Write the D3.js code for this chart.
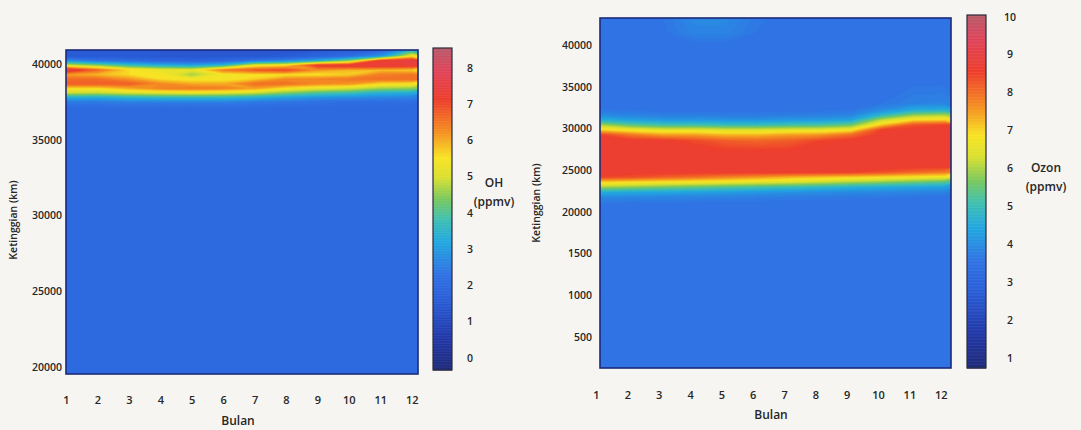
<!DOCTYPE html>
<html><head><meta charset="utf-8">
<script src="https://cdn.jsdelivr.net/npm/d3@7"></script>
<style>
body{margin:0;background:#f6f5f1;}
svg{display:block;}
text{font-family:"Open Sans",sans-serif;font-weight:600;fill:#262626;}
</style>
</head><body>
<svg id="c" width="1081" height="430"></svg>
<script>
// ---------------- DATA ----------------
const months = [1,2,3,4,5,6,7,8,9,10,11,12];
const monthLabels = ["1","2","3","4","5","6","7","8","9","10","11","12"];

// OH (ppmv): rows = altitude levels, columns = months 1..12
const ohAltitudes = [19550,30000,36600,37100,37500,37800,38100,38400,38700,39000,39300,39600,39900,40200,40500,40950];
const ohValues = [
  [2.0,2.0,2.0,2.0,2.0,2.0,2.0,2.0,2.0,2.0,2.0,2.0],
  [2.0,2.0,2.0,2.0,2.0,2.0,2.0,2.0,2.0,2.0,2.0,2.0],
  [2.0,2.0,2.0,2.0,2.0,2.0,2.0,2.0,2.0,2.0,2.0,2.0],
  [2.1,2.1,2.1,2.1,2.1,2.1,2.1,2.05,2.0,2.0,2.0,2.0],
  [2.5,2.5,2.6,2.6,2.6,2.6,2.5,2.4,2.3,2.2,2.2,2.2],
  [3.4,3.3,3.5,3.6,3.6,3.6,3.4,3.1,2.9,2.8,2.7,2.6],
  [4.9,4.8,5.0,5.1,5.2,5.1,4.9,4.4,4.0,3.8,3.4,3.3],
  [5.6,5.6,6.0,6.4,6.5,6.4,6.1,5.5,5.2,5.0,4.6,4.5],
  [6.8,6.8,6.8,6.3,6.0,6.0,6.6,6.6,6.3,6.2,5.6,5.5],
  [6.6,6.6,6.2,5.6,5.4,5.4,5.7,6.3,6.4,6.5,6.6,6.6],
  [6.1,5.9,5.6,5.5,4.6,5.4,5.5,5.5,5.5,5.7,6.4,6.5],
  [7.6,6.6,5.6,5.3,5.2,6.4,6.8,7.0,6.2,5.9,5.8,5.7],
  [5.0,4.5,3.8,3.4,3.2,3.6,5.3,5.6,7.2,7.4,7.4,7.3],
  [3.0,2.4,2.2,2.0,1.9,2.0,2.5,2.8,3.4,4.5,7.2,7.6],
  [1.6,1.6,1.5,1.5,1.4,1.5,1.5,1.6,1.9,2.2,3.0,5.5],
  [1.5,1.5,1.5,1.5,1.4,1.4,1.4,1.4,1.5,1.6,1.8,3.3]
];
const ohYTicks = [20000,25000,30000,35000,40000];
const ohYTickLabels = ["20000","25000","30000","35000","40000"];
const ohBarTicks = [0,1,2,3,4,5,6,7,8];

// Ozone (ppmv)
const ozAltitudes = [1280,15000,21000,21800,22400,23000,23600,24200,24800,25500,27000,28500,29200,29800,30400,31000,31600,32200,33000,36000,40000,41500,43240];
const ozValues = [
  [3.5,3.5,3.5,3.5,3.5,3.5,3.5,3.5,3.5,3.5,3.5,3.5],
  [3.5,3.5,3.5,3.5,3.5,3.5,3.5,3.5,3.5,3.5,3.5,3.5],
  [3.58,3.56,3.55,3.54,3.5,3.5,3.5,3.5,3.5,3.5,3.5,3.5],
  [3.97,3.92,3.88,3.85,3.81,3.77,3.72,3.67,3.64,3.62,3.6,3.57],
  [4.68,4.56,4.48,4.41,4.32,4.24,4.14,4.05,3.97,3.92,3.87,3.83],
  [6.0,5.83,5.65,5.5,5.34,5.2,5.04,4.88,4.7,4.56,4.46,4.36],
  [7.06,6.96,6.85,6.76,6.66,6.55,6.43,6.25,6.03,5.83,5.6,5.4],
  [8.5,8.39,8.2,8.02,7.81,7.6,7.36,7.21,7.08,6.96,6.82,6.7],
  [8.7,8.7,8.7,8.7,8.7,8.7,8.7,8.7,8.6,8.39,8.14,7.9],
  [8.7,8.7,8.7,8.7,8.7,8.7,8.7,8.7,8.7,8.7,8.7,8.7],
  [8.7,8.7,8.7,8.7,8.7,8.7,8.7,8.7,8.7,8.7,8.7,8.7],
  [8.7,8.7,8.7,8.45,8.2,8.1,8.2,8.5,8.7,8.7,8.7,8.7],
  [8.5,7.9,7.5,7.5,7.3,7.3,7.5,7.6,8.05,8.7,8.7,8.7],
  [7.04,6.7,6.5,6.5,6.4,6.4,6.5,6.55,6.78,8.6,8.7,8.7],
  [5.98,5.4,5.14,5.14,5.0,5.0,5.14,5.2,5.53,7.15,8.33,8.5],
  [4.66,4.36,4.2,4.2,4.12,4.12,4.2,4.24,4.42,6.15,6.93,7.04],
  [3.96,3.83,3.75,3.75,3.71,3.71,3.75,3.77,3.85,4.8,5.78,5.98],
  [3.63,3.57,3.54,3.54,3.52,3.52,3.54,3.55,3.59,4.0,4.54,4.66],
  [3.5,3.5,3.5,3.5,3.5,3.5,3.5,3.5,3.5,3.6,3.8,3.84],
  [3.5,3.5,3.5,3.5,3.5,3.5,3.5,3.5,3.5,3.5,3.5,3.5],
  [3.5,3.5,3.5,3.5,3.5,3.5,3.5,3.5,3.5,3.5,3.5,3.5],
  [3.5,3.5,3.55,3.85,3.85,3.6,3.5,3.5,3.5,3.5,3.5,3.5],
  [3.5,3.5,3.6,3.95,3.95,3.65,3.5,3.5,3.5,3.5,3.5,3.5]
];
const ozYTicks = [5000,10000,15000,20000,25000,30000,35000,40000];
const ozYTickLabels = ["500","1000","1500","20000","25000","30000","35000","40000"];
const ozBarTicks = [1,2,3,4,5,6,7,8,9,10];

// ---------------- STYLE ----------------
const cmapT = [0.00,0.10,0.22,0.30,0.40,0.47,0.53,0.60,0.66,0.74,0.84,0.93,1.00];
const cmapC = ["#1e2a78","#2238a8","#2a5ed8","#3072e4","#22a8e0","#40c0b0","#78c860","#dae030","#f8e424","#f59022","#ee3e2c","#e0445a","#b85a6a"];
const cmap = d3.scaleLinear().domain(cmapT).range(cmapC).interpolate(d3.interpolateRgb).clamp(true);

const svg = d3.select("#c");

function panel(cfg){
  const {x0,x1,y0,y1,xDom,yDom,levels,values,vDom,thr,yTicks,yLabels,xLabelShift,barX,barY0,barY1,barTicks,barLabelX,title,titleX,titleY,yTitleX,yTitleY,bulanX,bulanY,xTickY,yTickX,id} = cfg;
  const xS = d3.scaleLinear().domain(xDom).range([x0,x1]);
  const yS = d3.scaleLinear().domain(yDom).range([y1,y0]);
  const vToT = d3.scaleLinear().domain(vDom).range([0,1]);
  const color = v => cmap(vToT(v));

  svg.append("clipPath").attr("id","clip"+id).append("rect")
    .attr("x",x0).attr("y",y0).attr("width",x1-x0).attr("height",y1-y0);
  const g = svg.append("g").attr("clip-path",`url(#clip${id})`);

  const n = months.length, m = levels.length;
  const idxToAlt = d3.scaleLinear().domain(d3.range(m)).range(levels);
  const proj = d3.geoTransform({point(x,y){ this.stream.point(xS(x+0.5), yS(idxToAlt(y-0.5))); }});
  const path = d3.geoPath(proj);
  const step = thr[1]-thr[0];
  const contours = d3.contours().size([n,m]).thresholds(thr)(values.flat());
  g.selectAll("path").data(contours).join("path")
    .attr("d",path).attr("fill",d=>color(d.value+step/2)).attr("stroke",d=>color(d.value+step/2)).attr("stroke-width",0.3);

  svg.append("rect").attr("x",x0).attr("y",y0).attr("width",x1-x0).attr("height",y1-y0)
    .attr("fill","none").attr("stroke","#1c2a7a").attr("stroke-width",1.6);

  // axes
  const ax = svg.append("g").attr("transform",`translate(0,${xTickY})`)
    .call(d3.axisBottom(xS).tickValues(months).tickFormat((d,i)=>monthLabels[i]).tickSize(0).tickPadding(0));
  ax.select(".domain").remove();
  ax.selectAll("text").attr("font-size",11).attr("dx",xLabelShift).attr("dy","0.35em").style("font-family","'Open Sans',sans-serif").style("font-weight",600).attr("fill","#262626");

  const ay = svg.append("g").attr("transform",`translate(${yTickX},0)`)
    .call(d3.axisLeft(yS).tickValues(yTicks).tickFormat((d,i)=>yLabels[i]).tickSize(0).tickPadding(0));
  ay.select(".domain").remove();
  ay.selectAll("text").attr("font-size",10.5).style("font-family","'Open Sans',sans-serif").style("font-weight",600).attr("fill","#262626");

  svg.append("text").attr("transform",`translate(${yTitleX},${yTitleY}) rotate(-90)`)
    .attr("text-anchor","middle").attr("font-size",10.5).text("Ketinggian (km)");
  svg.append("text").attr("x",bulanX).attr("y",bulanY).attr("text-anchor","middle").attr("font-size",12).text("Bulan");

  // colorbar
  const bS = d3.scaleLinear().domain(vDom).range([barY1,barY0]);
  const bs = 0.02;
  svg.append("g").selectAll("rect").data(d3.range(vDom[0],vDom[1],bs)).join("rect")
    .attr("x",barX).attr("width",19).attr("y",d=>bS(Math.min(d+bs,vDom[1]))).attr("height",d=>bS(d)-bS(Math.min(d+bs,vDom[1]))+0.5)
    .attr("fill",d=>color(d+bs/2));
  svg.append("rect").attr("x",barX).attr("y",barY0).attr("width",19).attr("height",barY1-barY0)
    .attr("fill","none").attr("stroke","#2a2a3a").attr("stroke-width",1.2);
  svg.append("g").selectAll("text").data(barTicks).join("text")
    .attr("x",barLabelX).attr("y",d=>bS(d)).attr("dy","0.35em").attr("text-anchor","middle").attr("font-size",10.5).text(d=>d);
  svg.append("text").attr("x",titleX).attr("y",titleY).attr("text-anchor","middle").attr("font-size",12).text(title);
  svg.append("text").attr("x",titleX).attr("y",titleY+19).attr("text-anchor","middle").attr("font-size",12).text("(ppmv)");
}

panel({id:"oh",x0:66,x1:418,y0:50,y1:374,xDom:[1,12.2],yDom:[19540,40924],levels:ohAltitudes,values:ohValues,
  vDom:[-0.33,8.55],thr:d3.range(1.2,8.0,0.1),yTicks:ohYTicks,yLabels:ohYTickLabels,xLabelShift:0,
  barX:433,barY0:48,barY1:370,barTicks:ohBarTicks,barLabelX:470,title:"OH",titleX:494,titleY:187,
  yTitleX:17,yTitleY:220,bulanX:238,bulanY:425,xTickY:400,yTickX:62});

panel({id:"oz",x0:600,x1:951,y0:18,y1:368,xDom:[1,12.2],yDom:[1280,43240],levels:ozAltitudes,values:ozValues,
  vDom:[0.74,10.05],thr:d3.range(3.4,8.8,0.1),yTicks:ozYTicks,yLabels:ozYTickLabels,xLabelShift:-4,
  barX:967,barY0:15,barY1:368,barTicks:ozBarTicks,barLabelX:1010,title:"Ozon",titleX:1046,titleY:172,
  yTitleX:540,yTitleY:203,bulanX:771,bulanY:419,xTickY:395,yTickX:592});
</script>
</body></html>
